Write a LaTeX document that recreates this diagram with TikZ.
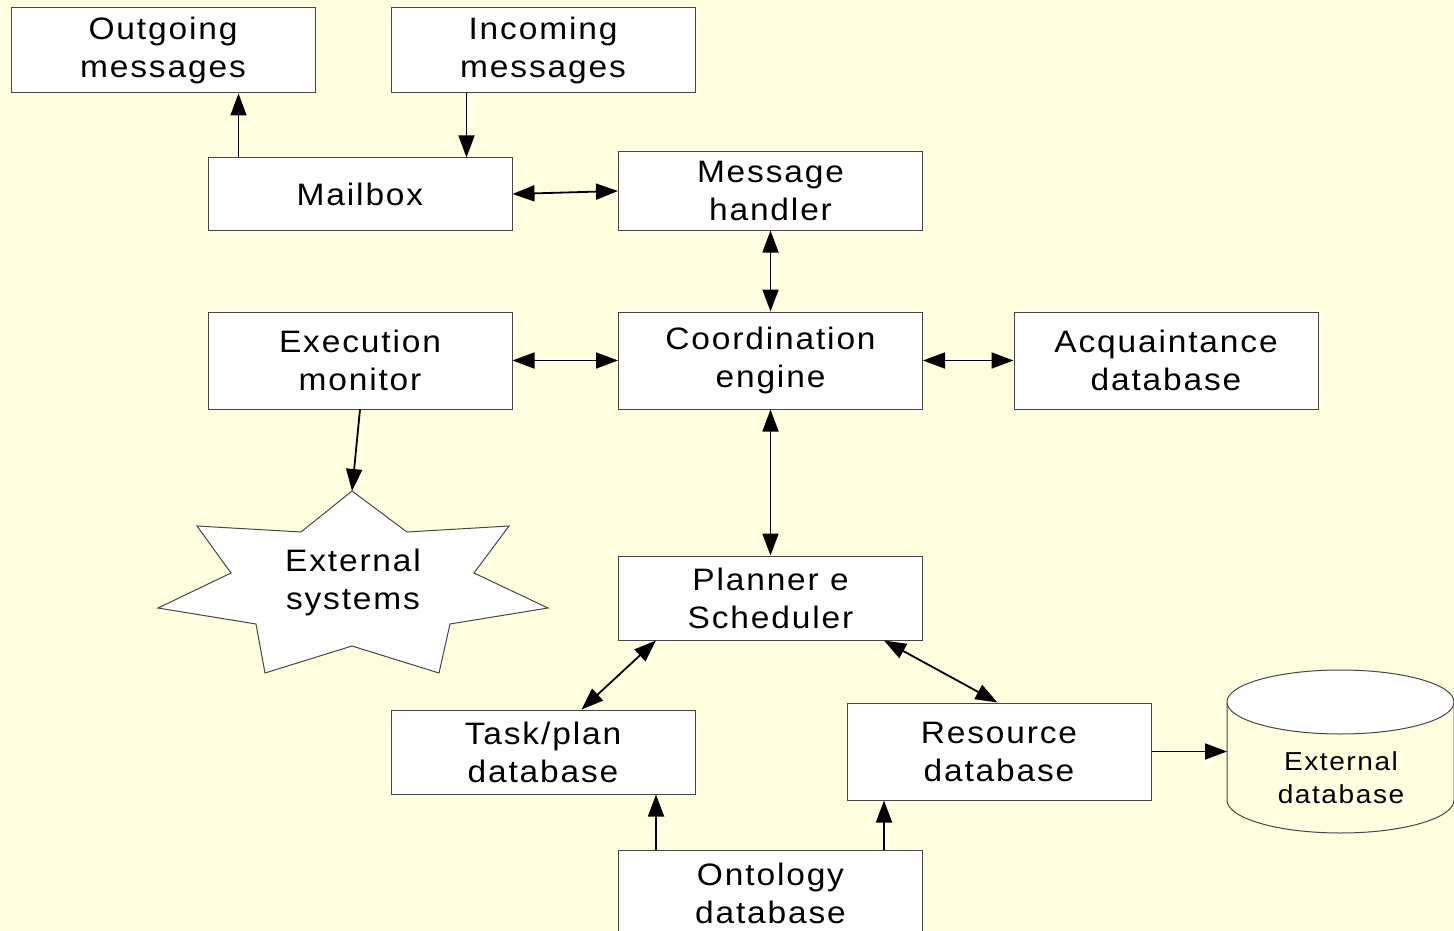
\documentclass[tikz,border=0pt]{standalone}
\usepackage{fontspec}
\setmainfont{Liberation Sans}[LetterSpace=6,FakeStretch=1.08]
\usetikzlibrary{arrows.meta}
\definecolor{bg}{RGB}{255,255,224}
\definecolor{edge}{RGB}{70,70,70}
\begin{document}
\begin{tikzpicture}[x=1pt,y=-1pt,
  box/.style={draw=edge, line width=1pt, fill=white, minimum width=304pt, align=center,
    font=\fontsize{31}{38}\selectfont, inner sep=0pt},
  tip/.tip={Triangle[length=22pt,width=16pt]},
  arr/.style={-tip, line width=1.8pt},
  darr/.style={tip-tip, line width=1.8pt}]
\fill[bg] (0,0) rectangle (1454,931);
\useasboundingbox (0,0) rectangle (1454,931);

% boxes
\node[box, minimum height=85pt] (out) at (163,50.5) {Outgoing\\messages};
\node[box, minimum height=85pt] (inc) at (543,50.5) {Incoming\\messages};
\node[box, minimum height=72pt] (mail) at (360,194) {Mailbox};
\node[box, minimum height=78pt] (hand) at (770.5,191) {Message\\handler};
\node[box, minimum height=97pt] (exec) at (360,360.5) {Execution\\monitor};
\node[box, minimum height=97pt] (coord) at (770.5,360.5) {Coordination\\engine};
\node[box, minimum height=97pt] (acq) at (1166,360.5) {Acquaintance\\database};
\node[box, minimum height=84pt] (plan) at (770.5,598) {Planner e\\Scheduler};
\node[box, minimum height=84pt] (task) at (543,752) {Task/plan\\database};
\node[box, minimum height=97pt] (res) at (999,751.5) {Resource\\database};
\node[box, minimum height=86pt] (ont) at (770.5,893) {Ontology\\database};

% star
\draw[edge, line width=1pt, fill=white]
  (352,491) -- (407,532) -- (509,526) -- (474,573) -- (548,608) -- (450,624)
  -- (439,673) -- (352,646) -- (265,673) -- (256,624) -- (158,608) -- (231,573)
  -- (197,526) -- (301,532) -- cycle;
\node[align=center, font=\fontsize{31}{38}\selectfont, inner sep=0pt] (ext) at (353,582) {External\\systems};
\coordinate (startop) at (352,491);

% cylinder
\draw[edge, line width=1pt] (1227,702) -- (1227,800) arc[start angle=180, end angle=360, x radius=113.5pt, y radius=33pt] -- (1454,702);
\draw[edge, line width=1pt, fill=white] (1340.5,702) ellipse[x radius=113.5pt, y radius=32pt];
\node[align=center, font=\fontsize{26}{33}\selectfont, inner sep=0pt] (extdb) at (1341,778) {External\\database};
\coordinate (cylW) at (1227,751.5);

% connectors
\coordinate (a1) at ([xshift=31pt]mail.north west);
\draw[arr] (a1) -- (a1 |- out.south);
\coordinate (a2) at ([xshift=76pt]inc.south west);
\draw[arr] (a2) -- (a2 |- mail.north);
\draw[darr] (mail.east) -- (hand.west);
\draw[darr] (hand.south) -- (coord.north);
\draw[darr] (exec.east) -- (coord.west);
\draw[darr] (coord.east) -- (acq.west);
\draw[darr] (coord.south) -- (plan.north);
\draw[arr] (exec.south) -- (startop);
\coordinate (p1) at ([xshift=38pt]plan.south west);
\coordinate (t1) at ([xshift=191pt]task.north west);
\draw[darr] (p1) -- (t1);
\coordinate (p2) at ([xshift=266pt]plan.south west);
\coordinate (r1) at ([xshift=151pt]res.north west);
\draw[darr] (p2) -- (r1);
\draw[arr] (res.east) -- (cylW);
\coordinate (o1) at ([xshift=38pt]ont.north west);
\draw[arr] (o1) -- (o1 |- task.south);
\coordinate (o2) at ([xshift=266pt]ont.north west);
\draw[arr] (o2) -- (o2 |- res.south);
\end{tikzpicture}
\end{document}
